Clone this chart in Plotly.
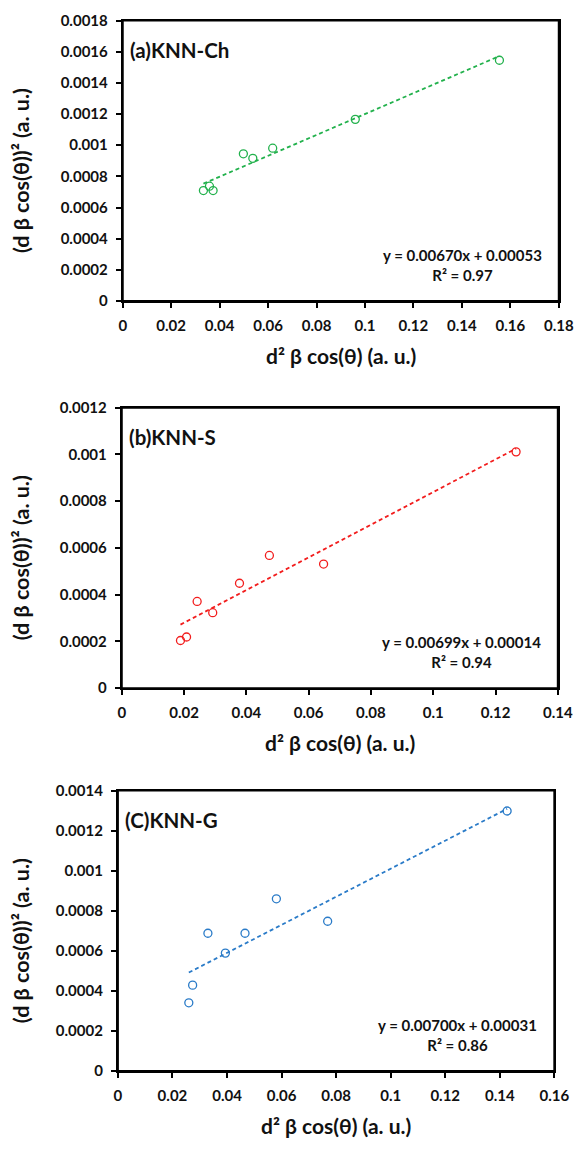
import plotly.graph_objects as go

# ---- data ----
x_a = [0.0333, 0.0358, 0.0373, 0.0498, 0.0537, 0.0619, 0.0960, 0.1555]
y_a = [0.000709, 0.000737, 0.000709, 0.000945, 0.000916, 0.000981, 0.001166, 0.001545]
x_b = [0.01885, 0.0208, 0.0242, 0.0292, 0.0378, 0.0474, 0.0648, 0.1266]
y_b = [0.000204, 0.000219, 0.000371, 0.000323, 0.000449, 0.000568, 0.000531, 0.001011]
x_c = [0.0260, 0.0274, 0.0330, 0.0394, 0.0466, 0.0581, 0.0769, 0.1427]
y_c = [0.000341, 0.000429, 0.000688, 0.000589, 0.000688, 0.000860, 0.000748, 0.001298]

slopes = [0.00670, 0.00699, 0.00700]
intercepts = [0.00053, 0.00014, 0.00031]
r2 = ["0.97", "0.94", "0.86"]
labels = ["(a)KNN-Ch", "(b)KNN-S", "(C)KNN-G"]
colors = ["#22B14C", "#F21D1D", "#2A7BC8"]

xtick_a = [0, 0.02, 0.04, 0.06, 0.08, 0.1, 0.12, 0.14, 0.16, 0.18]
xtick_b = [0, 0.02, 0.04, 0.06, 0.08, 0.1, 0.12, 0.14]
xtick_c = [0, 0.02, 0.04, 0.06, 0.08, 0.1, 0.12, 0.14, 0.16]
ytick_a = [0, 0.0002, 0.0004, 0.0006, 0.0008, 0.001, 0.0012, 0.0014, 0.0016, 0.0018]
ytick_b = [0, 0.0002, 0.0004, 0.0006, 0.0008, 0.001, 0.0012]
ytick_c = [0, 0.0002, 0.0004, 0.0006, 0.0008, 0.001, 0.0012, 0.0014]

xs = [x_a, x_b, x_c]
ys = [y_a, y_b, y_c]
xticks = [xtick_a, xtick_b, xtick_c]
yticks = [ytick_a, ytick_b, ytick_c]

W, H = 588, 1149
FONT = "Lato"
# pixel boxes in page coordinates (left, right, top, bottom)
boxes = [(122.7, 573.3, 10.7, 295.7), (121.7, 572.3, 404, 689), (117.7, 568.7, 793, 1078)]


def px(x):
    return x / W


def py(y):
    return 1 - y / H


def fmt(v):
    if v == 0:
        return "0"
    return ("%.4f" % v).rstrip("0").rstrip(".")


fig = go.Figure()
for i in range(3):
    n = "" if i == 0 else str(i + 1)
    xa = "x" + n
    ya = "y" + n
    L, R, T, B = boxes[i]
    fig.add_trace(go.Scatter(
        x=xs[i], y=ys[i], mode="markers", xaxis=xa, yaxis=ya,
        marker=dict(symbol="circle-open", size=8, color=colors[i], line=dict(width=1.3, color=colors[i])),
        showlegend=False))
    x0, x1 = min(xs[i]), max(xs[i])
    fig.add_trace(go.Scatter(
        x=[x0, x1], y=[slopes[i] * x0 + intercepts[i], slopes[i] * x1 + intercepts[i]],
        mode="lines", xaxis=xa, yaxis=ya,
        line=dict(color=colors[i], width=1.8, dash="4px,3px"), showlegend=False))

    axis_common = dict(showline=True, linecolor="black", linewidth=2, mirror=True,
                       ticks="outside", ticklen=5, tickwidth=2, tickcolor="black",
                       showgrid=False, zeroline=False, ticklabelstandoff=5,
                       tickfont=dict(family=FONT, size=15, color="#111111", weight="bold"))
    fig.update_layout(**{
        ("xaxis" + n): dict(axis_common, domain=[px(L), px(R)], anchor=ya,
                            range=[0, xticks[i][-1]], tickvals=xticks[i],
                            ticktext=[fmt(v) for v in xticks[i]]),
        ("yaxis" + n): dict(axis_common, domain=[py(B), py(T)], anchor=xa,
                            range=[0, yticks[i][-1]], tickvals=yticks[i],
                            ticktext=[fmt(v) for v in yticks[i]]),
    })
    # plot-area frame
    fig.add_shape(type="rect", xref=xa + " domain", yref=ya + " domain",
                  x0=0, x1=1, y0=0, y1=1, line=dict(color="black", width=2))

    # panel label
    fig.add_annotation(x=px(L + 5), y=py(T + 30), xref="paper", yref="paper",
                       text="<b>" + labels[i] + "</b>", showarrow=False, xanchor="left",
                       yanchor="middle", font=dict(family=FONT, size=20.5, color="#111111"))
    # equation
    fig.add_annotation(x=px(R - 100), y=py(B - 37), xref="paper", yref="paper",
                       text="<b>y = %.5fx + %.5f<br>R² = %s</b>" % (slopes[i], intercepts[i], r2[i]),
                       showarrow=False, xanchor="center", yanchor="middle", align="center",
                       font=dict(family=FONT, size=15, color="#111111"))
    # x title
    fig.add_annotation(x=px((L + R) / 2), y=py(B + 55), xref="paper", yref="paper",
                       text="<b>d² β cos(θ) (a. u.)</b>", showarrow=False,
                       xanchor="center", yanchor="middle",
                       font=dict(family=FONT, size=21, color="#111111"))
    # y title
    fig.add_annotation(x=px(17), y=py((T + B) / 2 + 10), xref="paper", yref="paper",
                       text="<b>(d β cos(θ))² (a. u.)</b>", showarrow=False, textangle=-90,
                       xanchor="center", yanchor="middle",
                       font=dict(family=FONT, size=21.5, color="#111111"))

fig.update_layout(width=W, height=H, margin=dict(l=0, r=0, t=0, b=0),
                  plot_bgcolor="white", paper_bgcolor="white")
fig.write_html("out.html", config={"displayModeBar": False},
               post_script="document.body.style.margin='0';document.body.style.overflow='hidden';")
